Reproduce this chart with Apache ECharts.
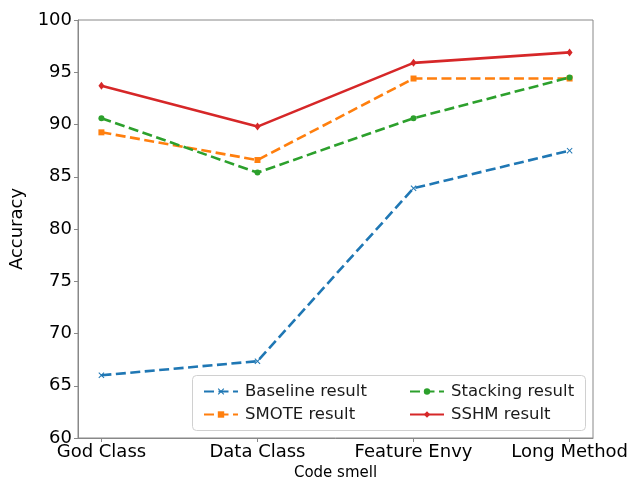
<!DOCTYPE html>
<html>
<head>
<meta charset="utf-8">
<script src="https://cdn.jsdelivr.net/npm/echarts@6/dist/echarts.min.js"></script>
<style>html,body{margin:0;padding:0;background:#fff;}#c{width:633px;height:479px;}</style>
</head>
<body>
<div id="c"></div>
<script>
const categories = ['God Class', 'Data Class', 'Feature Envy', 'Long Method'];
const baseline = [66.0, 67.35, 83.9, 87.5];
const smote = [89.25, 86.6, 94.4, 94.4];
const stacking = [90.6, 85.4, 90.6, 94.5];
const sshm = [93.7, 89.8, 95.9, 96.9];
const yTicks = [60, 65, 70, 75, 80, 85, 90, 95, 100];

const xSymbol = 'path://M0,1.2 L1.2,0 L5,3.8 L8.8,0 L10,1.2 L6.2,5 L10,8.8 L8.8,10 L5,6.2 L1.2,10 L0,8.8 L3.8,5 Z';
const font = 'DejaVu Sans';
const axisColor = '#888';

function pts(arr){ return arr.map((v,i)=>[i,v]); }

const chart = echarts.init(document.getElementById('c'), null, {renderer:'canvas'});
chart.setOption({
  animation: false,
  textStyle: {fontFamily: font},
  grid: {left: 78, top: 20, right: 40, bottom: 41, containLabel: false, outerBoundsMode: 'none',
    show: true, borderColor: axisColor, borderWidth: 1, backgroundColor: 'transparent'},
  xAxis: {
    type: 'value', min: -0.15, max: 3.15,
    name: 'Code smell', nameLocation: 'middle', nameGap: 27,
    nameTextStyle: {fontSize: 15, color: '#000', fontFamily: font},
    axisLine: {show: true, onZero: false, lineStyle: {color: axisColor, width: 1}},
    axisTick: {show: true, length: 4, customValues: [0,1,2,3], lineStyle: {color: axisColor}},
    axisLabel: {customValues: [0,1,2,3], fontSize: 18, color: '#000', margin: 5, fontFamily: font,
      formatter: v => categories[Math.round(v)]},
    splitLine: {show: false}
  },
  yAxis: {
    type: 'value', min: 60, max: 100, interval: 5,
    name: 'Accuracy', nameLocation: 'middle', nameGap: 48, nameRotate: 90,
    nameTextStyle: {fontSize: 18, color: '#000', fontFamily: font},
    axisLine: {show: true, onZero: false, lineStyle: {color: axisColor, width: 1}},
    axisTick: {show: true, length: 4, lineStyle: {color: axisColor}},
    axisLabel: {fontSize: 18, color: '#000', margin: 6, fontFamily: font,
      customValues: yTicks},
    splitLine: {show: false}
  },
  graphic: [{
    type: 'rect', z: 3, left: 192, top: 375,
    shape: {width: 393, height: 55, r: 4},
    style: {fill: 'rgba(255,255,255,0.85)', stroke: '#d0d0d0', lineWidth: 1}
  }],
  legend: [{
    orient: 'vertical', left: 198, top: 378, z: 5,
    itemWidth: 34, itemHeight: 8, itemGap: 6,
    data: ['Baseline result', 'SMOTE result'],
    textStyle: {fontSize: 16.5, color: '#1a1a1a', fontFamily: font, padding: [0,0,0,2]}
  },{
    orient: 'vertical', left: 404, top: 378, z: 5,
    itemWidth: 34, itemHeight: 8, itemGap: 6,
    data: ['Stacking result', 'SSHM result'],
    textStyle: {fontSize: 16.5, color: '#1a1a1a', fontFamily: font, padding: [0,0,0,2]}
  }],
  series: [
    {name: 'Baseline result', type: 'line', data: pts(baseline), symbol: xSymbol, symbolSize: 6,
      lineStyle: {color: '#1f77b4', width: 2.6, type: [10, 4.5]}, itemStyle: {color: '#1f77b4'}},
    {name: 'SMOTE result', type: 'line', data: pts(smote), symbol: 'rect', symbolSize: 6,
      lineStyle: {color: '#ff7f0e', width: 2.6, type: [10, 4.5]}, itemStyle: {color: '#ff7f0e'}},
    {name: 'Stacking result', type: 'line', data: pts(stacking), symbol: 'circle', symbolSize: 6,
      lineStyle: {color: '#2ca02c', width: 2.6, type: [10, 4.5]}, itemStyle: {color: '#2ca02c'}},
    {name: 'SSHM result', type: 'line', data: pts(sshm), symbol: 'diamond', symbolSize: [6, 8],
      lineStyle: {color: '#d62728', width: 2.6, type: 'solid'}, itemStyle: {color: '#d62728'}}
  ]
});
</script>
</body>
</html>
